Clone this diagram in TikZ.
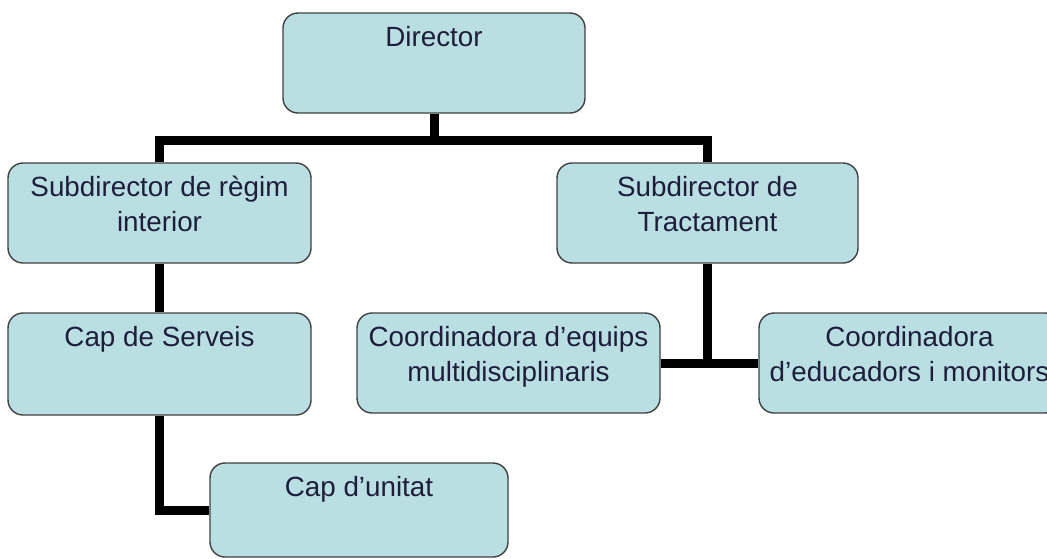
\documentclass[tikz,border=0pt]{standalone}
\usepackage{fontspec}
\setmainfont{Liberation Sans}
\definecolor{boxfill}{RGB}{186,223,226}
\definecolor{boxline}{RGB}{64,64,64}
\definecolor{txt}{RGB}{30,30,60}
\tikzset{
  orgbox/.style={draw=boxline, fill=boxfill, line width=1.4pt, rounded corners=15pt,
    minimum width=302pt, minimum height=100pt, inner sep=0pt},
  lbl/.style={anchor=north, inner sep=0pt, align=center, text=txt,
    font=\fontsize{27.8}{35}\selectfont},
  conn/.style={draw=black, line width=9pt, line join=miter}
}
\begin{document}
\begin{tikzpicture}[x=1pt,y=1pt]
\clip (0,0) rectangle (1047,-558);
\fill[white] (0,0) rectangle (1047,-558);
% boxes
\node[orgbox] (dir) at (434,-63) {};
\node[orgbox, minimum width=303pt] (sub1) at (159.5,-213) {};
\node[orgbox, minimum width=301pt] (sub2) at (707.5,-213) {};
\node[orgbox, minimum width=303pt, minimum height=102pt] (cap) at (159.5,-364) {};
\node[orgbox, minimum width=303pt] (co1) at (508.5,-363) {};
\node[orgbox, minimum width=301pt] (co2) at (909.5,-363) {};
\node[orgbox, minimum width=298pt, minimum height=94pt] (unit) at (359,-510) {};
% connectors
\draw[conn] (dir.south) -- ++(0,-26.5) coordinate (bar);
\draw[conn] (sub1.north) |- (bar) -| (sub2.north);
\draw[conn] (sub1.south) -- (cap.north);
\draw[conn] (cap.south) |- (unit.west);
\draw[conn] (co1.east) -- (co2.west);
\draw[conn] (sub2.south) -- (sub2.south |- co1.east);
% labels
\node[lbl] (tdir) at ([yshift=-9.5pt]dir.north) {\strut Director};
\node[lbl] (tsub1) at ([yshift=-9.5pt]sub1.north) {\strut Subdirector de règim\\interior};
\node[lbl] (tsub2) at ([yshift=-9.5pt]sub2.north) {\strut Subdirector de\\Tractament};
\node[lbl] (tcap) at ([yshift=-9.5pt]cap.north) {\strut Cap de Serveis};
\node[lbl] (tco1) at ([yshift=-9.5pt]co1.north) {\strut Coordinadora d’equips\\multidisciplinaris};
\node[lbl] (tco2) at ([yshift=-9.5pt]co2.north) {\strut Coordinadora\\d’educadors i monitors};
\node[lbl] (tunit) at ([yshift=-9.5pt]unit.north) {\strut Cap d’unitat};
\end{tikzpicture}
\end{document}
